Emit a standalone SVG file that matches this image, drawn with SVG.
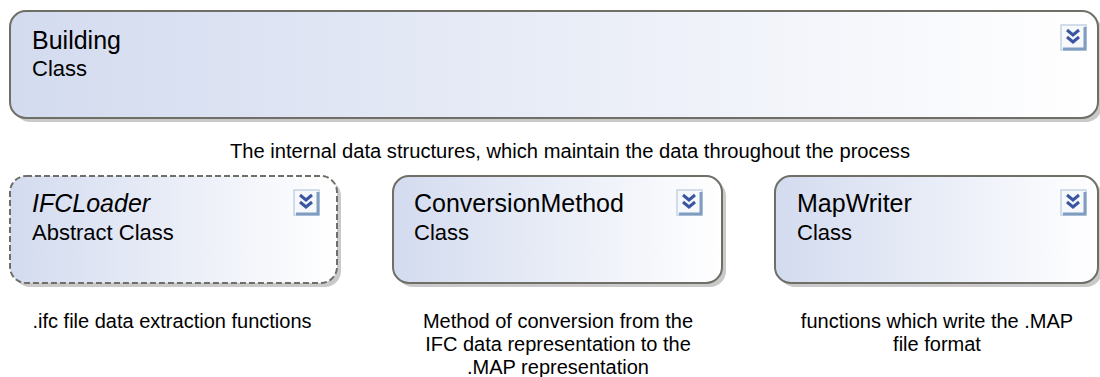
<svg xmlns="http://www.w3.org/2000/svg" width="1100" height="377" viewBox="0 0 1100 377">
<defs>
<linearGradient id="g" x1="0" y1="0" x2="1" y2="0">
<stop offset="0" stop-color="#d3dbef"/>
<stop offset="1" stop-color="#ffffff"/>
</linearGradient>
<g id="icon">
<rect x="0" y="0" width="25" height="25" fill="#f6f8fc" stroke="#c4d2e4" stroke-width="1.5"/>
<path d="M24 2 V24 H2" fill="none" stroke="#7f9dc0" stroke-width="3"/>
<path d="M6 5 L12 10 L18 5 M6 12 L12 17 L18 12" fill="none" stroke="#3b56a0" stroke-width="3"/>
</g>
</defs>
<style>
.box{fill:url(#g);stroke:#6f6f68;stroke-width:2}
.shadow{fill:#c9c9c9}
.t1{font-family:"Liberation Sans",Arial,sans-serif;font-size:25px;fill:#000}
.t2{font-family:"Liberation Sans",Arial,sans-serif;font-size:22px;fill:#000}
.note{font-family:"Liberation Sans",Arial,sans-serif;font-size:20px;fill:#000}
</style>
<g id="Building">
<rect class="shadow" x="14" y="15" width="1088" height="107" rx="16"/>
<rect class="box" x="10" y="11" width="1088" height="107" rx="16"/>
<text class="t1" x="32" y="49">Building</text>
<text class="t2" x="32" y="76">Class</text>
<use href="#icon" x="1061" y="25"/>
</g>
<text class="note" x="230" y="158" font-size="18" textLength="680" lengthAdjust="spacingAndGlyphs">The internal data structures, which maintain the data throughout the process</text>
<g id="IFCLoader">
<rect class="shadow" x="14" y="180" width="327" height="107" rx="16"/>
<rect class="box" x="10" y="176" width="327" height="107" rx="16" stroke-dasharray="6,3"/>
<text class="t1" x="32" y="212" font-style="italic">IFCLoader</text>
<text class="t2" x="32" y="240">Abstract Class</text>
<use href="#icon" x="294" y="190"/>
</g>
<g id="ConversionMethod">
<rect class="shadow" x="397" y="180" width="329" height="107" rx="16"/>
<rect class="box" x="393" y="176" width="329" height="107" rx="16"/>
<text class="t1" x="414" y="212">ConversionMethod</text>
<text class="t2" x="414" y="240">Class</text>
<use href="#icon" x="677" y="190"/>
</g>
<g id="MapWriter">
<rect class="shadow" x="779" y="180" width="323" height="107" rx="16"/>
<rect class="box" x="775" y="176" width="323" height="107" rx="16"/>
<text class="t1" x="797" y="212">MapWriter</text>
<text class="t2" x="797" y="240">Class</text>
<use href="#icon" x="1061" y="190"/>
</g>
<g id="notes" class="note" text-anchor="middle">
<text x="172" y="328">.ifc file data extraction functions</text>
<text x="558" y="328">Method of conversion from the</text>
<text x="558" y="351">IFC data representation to the</text>
<text x="558" y="374">.MAP representation</text>
<text x="937" y="328">functions which write the .MAP</text>
<text x="937" y="351">file format</text>
</g>
<g id="connectors"/>
</svg>
